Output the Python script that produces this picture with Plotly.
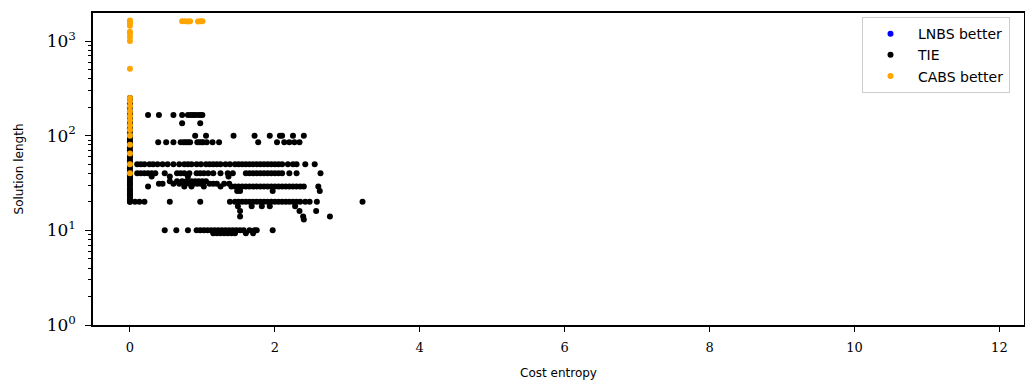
import plotly.graph_objects as go

# ---------------- data ----------------
# LNBS better: no visible points
lnbs_x = []
lnbs_y = []

# CABS better (orange)
cabs_x = [0] * 22 + [0.72, 0.76, 0.80, 0.83, 0.94, 0.97, 1.00]
cabs_y = [40, 50, 65, 80, 100, 115, 128, 145, 160, 180, 204, 230, 250,
          510, 1000, 1100, 1200, 1250, 1450, 1550, 1600, 1650,
          1620, 1620, 1610, 1620, 1610, 1620, 1620]

# TIE (black) -- column at zero cost entropy
tie_col0_y = [20, 20, 21, 22, 23, 24, 25, 26, 27, 28, 30, 31, 32, 34, 35, 36,
              38, 40, 42, 45, 48, 50, 52, 55, 58, 60, 63, 66, 70, 75, 80, 85,
              90, 95, 100, 110, 120, 130, 140, 150, 160, 170, 180, 200, 220,
              240, 250]

# TIE rows: solution length level -> cost entropies
row_165 = [0.25, 0.40, 0.60, 0.72, 0.80, 0.84, 0.87, 0.90, 0.94, 0.97, 1.00]
row_135 = [0.72, 0.97]
row_100 = [0.90, 1.05, 1.43, 1.72, 1.93, 2.07, 2.10, 2.25, 2.40]
row_85 = [0.39, 0.50, 0.60, 0.70, 0.74, 0.77, 0.80, 0.83, 0.93, 0.96, 0.99,
          1.01, 1.06, 1.14, 1.23, 1.77, 2.03, 2.13, 2.20, 2.27, 2.34]
row_50 = [0.10, 0.15, 0.20, 0.27, 0.32, 0.38, 0.45, 0.52, 0.60, 0.68, 0.75,
          0.80, 0.85, 0.92, 0.98, 1.05, 1.10, 1.15, 1.20, 1.25, 1.32, 1.38,
          1.45, 1.50, 1.55, 1.60, 1.65, 1.70, 1.75, 1.80, 1.85, 1.90, 1.95,
          2.00, 2.05, 2.10, 2.18, 2.25, 2.30, 2.42, 2.55]
row_40 = [0.10, 0.15, 0.20, 0.25, 0.30, 0.35, 0.48, 0.65, 0.70, 0.75, 0.82,
          0.92, 0.97, 1.02, 1.08, 1.15, 1.25, 1.35, 1.42, 1.60, 1.65, 1.70,
          1.75, 1.80, 1.85, 1.90, 1.95, 2.00, 2.05, 2.10, 2.20, 2.30, 2.63]
row_37 = [0.30, 0.55, 0.80, 1.36]
row_33 = [0.55, 0.65, 0.72, 0.78, 0.85, 0.90, 0.95, 1.00, 1.05]
row_31 = [0.40, 0.45, 0.60, 0.68, 0.75, 0.82, 0.88, 0.93, 0.98, 1.10, 1.15,
          1.20, 1.30, 1.37]
row_29 = [0.25, 0.75, 0.85, 1.02, 1.25, 1.40, 1.45, 1.50, 1.55, 1.60, 1.65,
          1.70, 1.75, 1.80, 1.85, 1.90, 1.95, 2.00, 2.05, 2.10, 2.15, 2.20,
          2.25, 2.30, 2.35, 2.40, 2.60]
row_26 = [1.48, 1.52, 1.97, 2.62]
row_20 = [0.07, 0.13, 0.20, 0.55, 0.97, 1.38, 1.45, 1.50, 1.55, 1.60, 1.65,
          1.70, 1.75, 1.80, 1.85, 1.90, 1.95, 2.00, 2.05, 2.10, 2.15, 2.20,
          2.25, 2.30, 2.35, 2.42, 2.48, 2.58, 3.21]
row_18 = [1.49, 1.68, 1.82, 1.93, 2.28]
row_16 = [1.52, 2.34, 2.57]
row_14 = [1.52, 2.39, 2.76]
row_13 = [2.40]
row_10 = [0.48, 0.64, 0.80, 0.92, 0.97, 1.02, 1.07, 1.12, 1.17, 1.22, 1.27,
          1.32, 1.37, 1.42, 1.47, 1.52, 1.57, 1.65, 1.72, 1.75, 1.97]
row_9 = [1.15, 1.20, 1.25, 1.30, 1.35, 1.40, 1.45, 1.60, 1.70]

tie_levels = [165, 135, 100, 85, 50, 40, 37, 33, 31, 29, 26, 20, 18, 16, 14,
              13, 10, 9.3]
tie_rows = [row_165, row_135, row_100, row_85, row_50, row_40, row_37, row_33,
            row_31, row_29, row_26, row_20, row_18, row_16, row_14, row_13,
            row_10, row_9]

tie_x = [0] * len(tie_col0_y)
tie_y = list(tie_col0_y)
for lvl, xs in zip(tie_levels, tie_rows):
    tie_x += xs
    tie_y += [lvl] * len(xs)

x_ticks = [0, 2, 4, 6, 8, 10, 12]
y_ticks = [1, 10, 100, 1000]
y_tick_text = ["10<sup>0</sup>", "10<sup>1</sup>", "10<sup>2</sup>", "10<sup>3</sup>"]
y_minor_ticks = [2, 3, 4, 5, 6, 7, 8, 9, 20, 30, 40, 50, 60, 70, 80, 90,
                 200, 300, 400, 500, 600, 700, 800, 900]

# ---------------- figure ----------------
fig = go.Figure()
fig.add_trace(go.Scatter(x=lnbs_x if lnbs_x else [None], y=lnbs_y if lnbs_y else [None],
                         mode="markers", name="LNBS better",
                         marker=dict(color="#0000ff", size=6)))
fig.add_trace(go.Scatter(x=tie_x, y=tie_y, mode="markers", name="TIE",
                         marker=dict(color="black", size=6)))
fig.add_trace(go.Scatter(x=cabs_x, y=cabs_y, mode="markers", name="CABS better",
                         marker=dict(color="#ffa500", size=6)))

fig.update_layout(
    width=1025, height=385,
    margin=dict(l=93, r=1, t=13, b=60),
    plot_bgcolor="white", paper_bgcolor="white",
    showlegend=True,
    legend=dict(x=0.826, y=0.987, xanchor="left", yanchor="top",
                bgcolor="white", bordercolor="#cccccc", borderwidth=1,
                font=dict(family="DejaVu Sans", size=14, color="black"),
                itemwidth=45, tracegroupgap=0),
)
fig.update_xaxes(
    range=[-0.51, 12.34], tickvals=x_ticks, ticktext=[str(v) for v in x_ticks],
    showgrid=False, zeroline=False, showline=True, linecolor="black", linewidth=1.5,
    mirror=True, ticks="outside", ticklen=5, tickcolor="black", automargin=False,
    ticklabelstandoff=5,
    tickfont=dict(family="DejaVu Serif", size=13, color="black"),
    title=dict(text="Cost entropy", font=dict(family="DejaVu Sans", size=12, color="black"),
               standoff=14),
)
fig.update_yaxes(
    type="log", range=[0, 3.296], tickvals=y_ticks, ticktext=y_tick_text,
    showgrid=False, zeroline=False, showline=True, linecolor="black", linewidth=1.5,
    mirror=True, ticks="outside", ticklen=6, tickcolor="black", automargin=False,
    ticklabelstandoff=6,
    minor=dict(tickvals=y_minor_ticks, ticks="outside", ticklen=3, tickcolor="black",
               showgrid=False),
    tickfont=dict(family="DejaVu Serif", size=17, color="black"),
    title=dict(text="Solution length", font=dict(family="DejaVu Sans", size=12, color="black"),
               standoff=20),
)

fig.write_html("out.html", config={"displayModeBar": False},
               post_script="document.body.style.margin='0';")
